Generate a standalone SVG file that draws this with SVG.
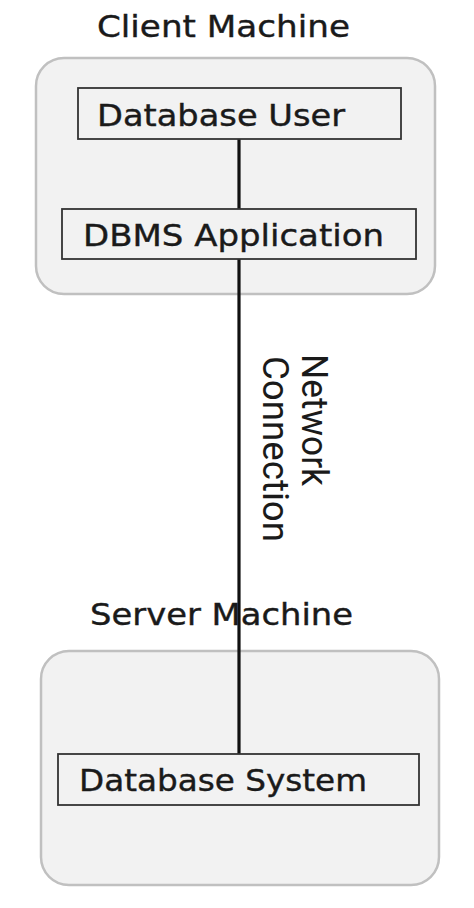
<svg xmlns="http://www.w3.org/2000/svg" width="474" height="908" viewBox="0 0 474 908">
<style>
.container{fill:#f2f2f2;stroke:#c0c0c0;stroke-width:2.5}
.box{fill:#f2f2f2;stroke:#333333;stroke-width:1.8}
.lbl{font-family:"DejaVu Sans",sans-serif;font-size:31px;fill:#1a1a1a;stroke:#1a1a1a;stroke-width:0.4}
.edge{font-family:Roboto,"Liberation Sans",sans-serif;font-size:36px;fill:#1a1a1a}
.conn{stroke:#111111;stroke-width:3.2;fill:none}
</style>
<rect width="474" height="908" fill="#ffffff"/>
<g id="client-machine">
<rect class="container" x="36" y="58" width="399" height="236" rx="28"/>
<text class="lbl" x="97" y="37" textLength="253" lengthAdjust="spacingAndGlyphs">Client Machine</text>
</g>
<g id="server-machine">
<rect class="container" x="41" y="651" width="398" height="234" rx="28"/>
<text class="lbl" x="90" y="625" textLength="263" lengthAdjust="spacingAndGlyphs">Server Machine</text>
</g>
<g id="connectors">
<line class="conn" x1="239" y1="139" x2="239" y2="209"/>
<line class="conn" x1="239" y1="259" x2="239" y2="754"/>
<text class="edge" transform="translate(302,354) rotate(90)"><tspan x="0" y="0" textLength="132" lengthAdjust="spacingAndGlyphs">Network</tspan><tspan x="2" y="39" textLength="186" lengthAdjust="spacingAndGlyphs">Connection</tspan></text>
</g>
<g id="database-user">
<rect class="box" x="78" y="88" width="323" height="51"/>
<text class="lbl" x="97" y="126" textLength="248" lengthAdjust="spacingAndGlyphs">Database User</text>
</g>
<g id="dbms-application">
<rect class="box" x="62" y="209" width="354" height="50"/>
<text class="lbl" x="83" y="246" textLength="301" lengthAdjust="spacingAndGlyphs">DBMS Application</text>
</g>
<g id="database-system">
<rect class="box" x="58" y="754" width="361" height="51"/>
<text class="lbl" x="79" y="791" textLength="288" lengthAdjust="spacingAndGlyphs">Database System</text>
</g>
</svg>
